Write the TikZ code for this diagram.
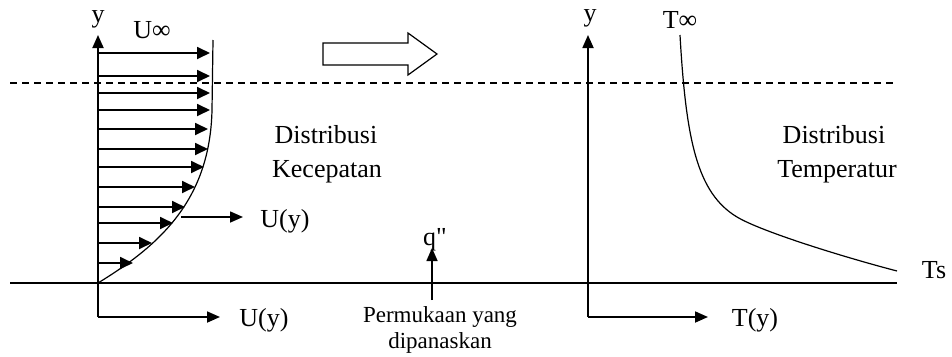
\documentclass[tikz,border=0pt]{standalone}
\usepackage{fontspec}
\setmainfont{Liberation Serif}
\newfontfamily\rawserif{Liberation Serif}[Ligatures=TeXOff]
\usetikzlibrary{arrows.meta}
\begin{document}
\begin{tikzpicture}[x=1pt,y=-1pt,
  ax/.style={line width=1.8pt,-{Triangle[length=13pt,width=11pt]}},
  parr/.style={line width=1.8pt,-{Triangle[length=13pt,width=12pt]}},
  thinline/.style={line width=1.2pt},
  big/.style={font=\fontsize{26}{30}\selectfont, inner sep=0pt, anchor=base},
  small/.style={font=\fontsize{23}{26}\selectfont, inner sep=0pt, anchor=base}]
\useasboundingbox (0,0) rectangle (952,356);
% reference lines
\coordinate (gl) at (10,283); \coordinate (gr) at (897,283);
\coordinate (dl) at (10,83);  \coordinate (dr) at (897,83);
\draw[thinline] (gl) -- (gr);
\draw[thinline, dash pattern=on 7pt off 5pt] (dl) -- (dr);
% left axes
\coordinate (O1) at (98,317); \coordinate (Y1) at (98,35); \coordinate (X1) at (220,317);
\draw[ax] (O1) -- (Y1);
\draw[ax] (O1) -- (X1);
\node[big] (y1) at (98,22) {y};
\node[big] (uy1) at (264,326) {U(y)};
\node[big] (uinf) at (152,38) {U∞};
% velocity profile
\coordinate (p0) at (98,283); \coordinate (p1) at (212,110); \coordinate (p2) at (213,40);
\draw[thinline] (p0) .. controls (160,245) and (210,200) .. (p1) -- (p2);
\foreach \yy/\xx in {53/210,76/210,93/210,110/210,129/208,149/208,167/204,187/195,207/185,223/173,243/152,263/133}{
  \draw[parr] (98,\yy) -- (\xx,\yy);
}
\coordinate (us) at (181,217); \coordinate (ue) at (243,217);
\draw[ax, line width=1.6pt] (us) -- (ue);
\node[big] (uy2) at (285,227) {U(y)};
\node[big] (d1) at (326,143) {Distribusi};
\node[big] (k1) at (327,177) {Kecepatan};
% hollow arrow
\draw[line width=1.2pt] (323,43) -- (408,43) -- (408,33) -- (437,54) -- (408,75) -- (408,65) -- (323,65) -- cycle;
% heat flux
\coordinate (qs) at (432,300); \coordinate (qe) at (432,248);
\draw[ax, line width=1.6pt] (qs) -- (qe);
\node[big, font=\fontsize{26}{30}\rawserif] (q) at (435,245) {q"};
\node[small] (pm) at (440,322) {Permukaan yang};
\node[small] (dp) at (440,348) {dipanaskan};
% right axes
\coordinate (O2) at (588,317); \coordinate (Y2) at (588,35); \coordinate (X2) at (708,317);
\draw[ax] (O2) -- (Y2);
\draw[ax] (O2) -- (X2);
\node[big] (y2) at (590,21) {y};
\node[big] (ty) at (755,326) {T(y)};
\node[big] (tinf) at (680,28) {T∞};
\node[big] (ts) at (934,278) {Ts};
\coordinate (t0) at (680,35); \coordinate (t1) at (737,217); \coordinate (t2) at (897,271);
\draw[thinline] (t0) .. controls (686,140) and (697,193) .. (t1)
  .. controls (762,232) and (847,258) .. (t2);
\node[big] (d2) at (834,143) {Distribusi};
\node[big] (t2) at (837,177) {Temperatur};
\end{tikzpicture}
\end{document}
